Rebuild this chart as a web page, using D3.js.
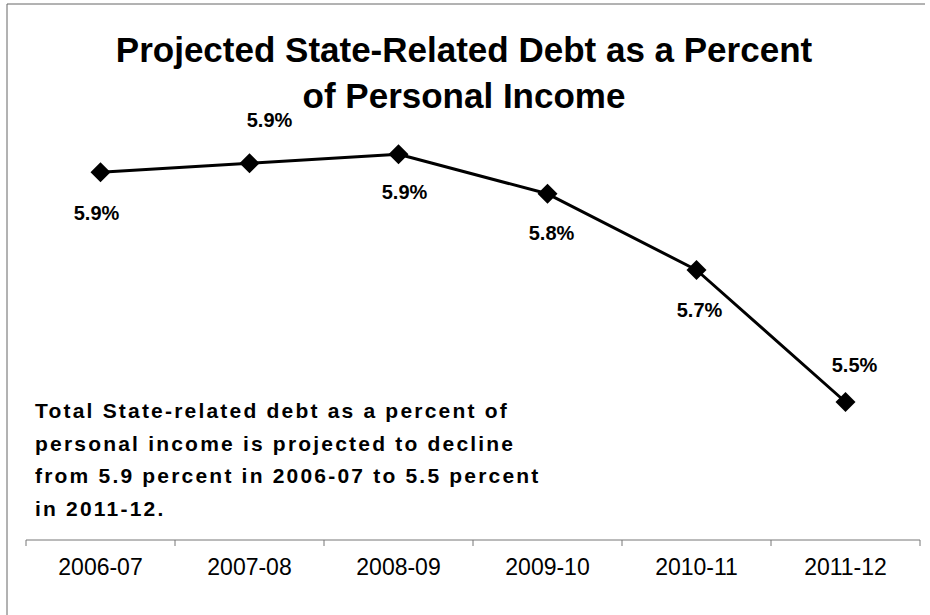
<!DOCTYPE html>
<html>
<head>
<meta charset="utf-8">
<script src="https://cdnjs.cloudflare.com/ajax/libs/d3/7.8.5/d3.min.js"></script>
<style>
  body { margin: 0; background: #fff; }
  svg { display: block; }
</style>
</head>
<body>
<svg width="930" height="615"></svg>
<script>
var categories = ["2006-07", "2007-08", "2008-09", "2009-10", "2010-11", "2011-12"];
var values = [5.883, 5.898, 5.913, 5.847, 5.72, 5.5];
var valueLabels = ["5.9%", "5.9%", "5.9%", "5.8%", "5.7%", "5.5%"];
var titleLines = ["Projected State-Related Debt as a Percent", "of Personal Income"];
var noteLines = [
    "Total State-related debt as a percent of",
    "personal income is projected to decline",
    "from 5.9 percent in 2006-07 to 5.5 percent",
    "in 2011-12."
];

var svg = d3.select("svg");
var fontFamily = "Liberation Sans, Arial, sans-serif";
var axisY = 540;

var x = d3.scaleBand()
    .domain(categories)
    .range([26, 920]);

var y = d3.scaleLinear()
    .domain([5.3, 6.0])
    .range([522, 102]);

// frame (only left and top edges show in the scan)
svg.append("path")
    .attr("d", "M7,615 V4 H925")
    .attr("fill", "none")
    .attr("stroke", "#666")
    .attr("stroke-width", 1);

// title
svg.append("text")
    .attr("font-family", fontFamily)
    .attr("font-weight", "bold")
    .attr("font-size", 35)
    .attr("text-anchor", "middle")
    .selectAll("tspan")
    .data(titleLines)
    .enter().append("tspan")
    .attr("x", 464)
    .attr("y", function(d, i) { return 62 + i * 46; })
    .text(function(d) { return d; });

// x axis
var xAxis = d3.axisBottom(x).tickSize(0).tickPadding(19);
var gx = svg.append("g")
    .attr("transform", "translate(0," + axisY + ")")
    .call(xAxis);
gx.select(".domain").remove();
gx.selectAll("text")
    .attr("font-family", fontFamily)
    .attr("font-size", 23)
    .attr("fill", "#000")
    .attr("dy", "0.71em");

gx.append("line")
    .attr("x1", x.range()[0]).attr("x2", x.range()[1])
    .attr("stroke", "#777");

var edges = categories.map(function(c) { return x(c); }).concat([x.range()[1]]);
gx.selectAll(".edge")
    .data(edges)
    .enter().append("line")
    .attr("class", "edge")
    .attr("x1", function(d) { return d; })
    .attr("x2", function(d) { return d; })
    .attr("y1", 0)
    .attr("y2", 6)
    .attr("stroke", "#777");

// line
var line = d3.line()
    .x(function(d, i) { return x(categories[i]) + x.bandwidth() / 2; })
    .y(function(d) { return y(d); });

svg.append("path")
    .datum(values)
    .attr("fill", "none")
    .attr("stroke", "#000")
    .attr("stroke-width", 3)
    .attr("stroke-linejoin", "round")
    .attr("d", line);

// diamonds
var diamond = d3.symbol().type(d3.symbolSquare).size(200);
svg.selectAll(".pt")
    .data(values)
    .enter().append("path")
    .attr("class", "pt")
    .attr("d", diamond)
    .attr("fill", "#000")
    .attr("transform", function(d, i) {
        return "translate(" + (x(categories[i]) + x.bandwidth() / 2) + "," + y(d) + ") rotate(45)";
    });

// value labels: mostly below the point, two above
var labelOffsets = [[-4, 41], [20, -43], [6, 38], [4, 39], [3, 40], [9, -37]];
svg.selectAll(".vl")
    .data(values)
    .enter().append("text")
    .attr("class", "vl")
    .attr("x", function(d, i) { return x(categories[i]) + x.bandwidth() / 2 + labelOffsets[i][0]; })
    .attr("y", function(d, i) { return y(d) + labelOffsets[i][1]; })
    .attr("dy", "0.36em")
    .attr("text-anchor", "middle")
    .attr("font-family", fontFamily)
    .attr("font-weight", "bold")
    .attr("font-size", 20)
    .text(function(d, i) { return valueLabels[i]; });

// annotation
svg.append("g")
    .selectAll("text")
    .data(noteLines)
    .enter().append("text")
    .attr("x", 35)
    .attr("y", function(d, i) { return 418 + i * 32.5; })
    .attr("font-family", fontFamily)
    .attr("font-weight", "bold")
    .attr("font-size", 21)
    .attr("letter-spacing", 2.2)
    .text(function(d) { return d; });
</script>
</body>
</html>
